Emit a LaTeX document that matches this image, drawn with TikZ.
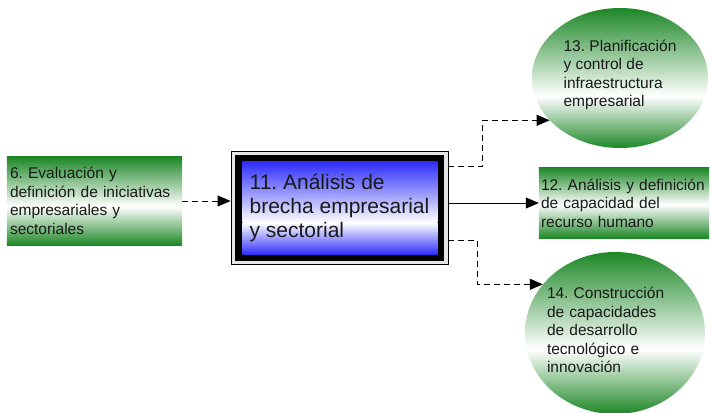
\documentclass[tikz,border=0pt]{standalone}
\usepackage{fontspec}
\setmainfont{Liberation Sans}
\usetikzlibrary{arrows.meta,shapes.geometric,backgrounds,calc}
\definecolor{dg}{RGB}{28,135,38}
\definecolor{bb}{RGB}{45,45,252}
\definecolor{tx}{RGB}{25,25,25}
% #1 NW corner, #2 SE corner, #3 fraction (from top) where colour is white, #4 colour
\newcommand\mygrad[4]{%
  \path (#1) coordinate (gA) (#2) coordinate (gB);
  \shade[top color=#4, bottom color=white] (gA) rectangle ($(gA -| gB)!#3!(gB)$);
  \shade[top color=white, bottom color=#4] ($(gA)!#3!(gA |- gB)$) rectangle (gB);
}
\tikzset{
  gbox/.style={rectangle, inner sep=0pt, text=tx, align=left, font=\fontsize{15.5}{18.5}\selectfont},
  gell/.style={ellipse, inner sep=0pt},
  lbl/.style={text=tx, align=left, inner sep=0pt, font=\fontsize{15.5}{18.5}\selectfont},
  dline/.style={line width=1pt, dash pattern=on 6pt off 4pt, -{Triangle[length=13pt,width=11pt]}},
  sline/.style={line width=1pt, -{Triangle[length=13pt,width=11pt]}},
}
\begin{document}
\frenchspacing
\begin{tikzpicture}[x=1pt,y=-1pt]
\useasboundingbox (0,0) rectangle (711,412);
\begin{scope}[on background layer]
  \fill[white] (0,0) rectangle (711,412);
\end{scope}

\node[gbox, minimum width=175pt, minimum height=88pt, text width=169pt] (b6) at (94.5,201)
  {6. Evaluación y\\definición de iniciativas\\empresariales y\\sectoriales};

\node[draw=black, line width=0.8pt, minimum width=217pt, minimum height=113pt, align=left,
      font=\fontsize{21}{24}\selectfont, text=tx, inner sep=0pt] (b11) at (339.5,207.5)
  {11. Análisis de\\brecha empresarial\\y sectorial};

\node[gbox, minimum width=170pt, minimum height=70pt, text width=166pt] (b12) at (624,203)
  {12. Análisis y definición\\de capacidad del\\recurso humano};

\node[gell, minimum width=176pt, minimum height=140pt] (e13) at (620,78) {};
\node[gell, minimum width=180pt, minimum height=162pt] (e14) at (615,333) {};

\begin{scope}[on background layer]
  \mygrad{b6.north west}{b6.south east}{0.56}{dg}
  \mygrad{b12.north west}{b12.south east}{0.52}{dg}
  \fill[gray!20] (b11.north west) rectangle (b11.south east);
  \fill[black] ([shift={(4,4)}]b11.north west) rectangle ([shift={(-4.5,-3)}]b11.south east);
  \coordinate (bi1) at ([shift={(12,11)}]b11.north west);
  \coordinate (bi2) at ([shift={(-11,-10)}]b11.south east);
  \mygrad{bi1}{bi2}{0.66}{bb}
  \begin{scope}
    \clip (e13.center) ellipse [x radius=88pt, y radius=70pt];
    \mygrad{e13.north -| e13.west}{e13.south -| e13.east}{0.63}{dg}
  \end{scope}
  \begin{scope}
    \clip (e14.center) ellipse [x radius=90pt, y radius=81pt];
    \mygrad{e14.north -| e14.west}{e14.south -| e14.east}{0.6}{dg}
  \end{scope}
\end{scope}

\node[lbl] (t13) at (620,75) {13. Planificación\\y control de\\infraestructura\\empresarial};
\node[lbl, text width=136pt] (t14) at (615,330) {14. Construcción\\de capacidades\\de desarrollo\\tecnológico e\\innovación};

\draw[dline] (b6.east) -- (b6.east -| b11.west);
\coordinate (s13) at ($(b11.north east)+(0,16)$);
\draw[dline] (s13) -- ++(34,0) |- (e13.211);
\draw[sline] (b11.east |- b12.west) -- (b12.west);
\coordinate (s14) at ($(b11.south east)+(0,-24)$);
\draw[dline] (s14) -- ++(29,0) |- (e14.146);
\end{tikzpicture}
\end{document}
